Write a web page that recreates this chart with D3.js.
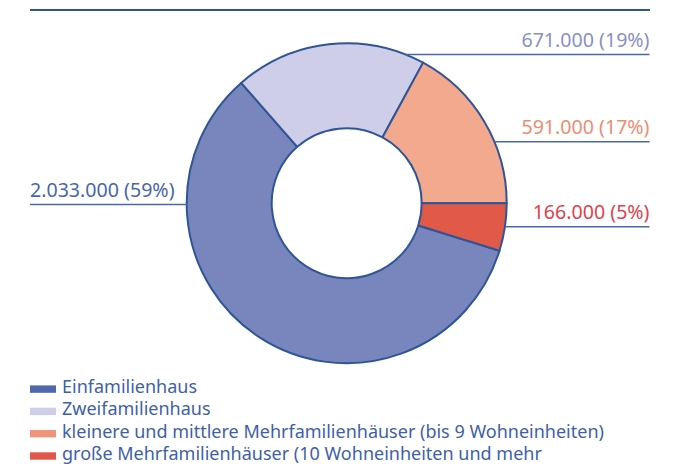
<!DOCTYPE html>
<html lang="de">
<head>
<meta charset="utf-8">
<title>Wohngebäude nach Gebäudetyp</title>
<script src="https://cdn.jsdelivr.net/npm/d3@7"></script>
<style>
  html, body { margin: 0; padding: 0; background: #ffffff; }
  svg { display: block; font-family: "Noto Sans", "Open Sans", sans-serif; }
</style>
</head>
<body>
<svg id="chart" width="690" height="469"></svg>
<script>
// Gebäudetypen und Anzahl der Wohngebäude
const categories = [
  "Einfamilienhaus",
  "Zweifamilienhaus",
  "kleinere und mittlere Mehrfamilienhäuser (bis 9 Wohneinheiten)",
  "große Mehrfamilienhäuser (10 Wohneinheiten und mehr"
];
const values = [2033000, 671000, 591000, 166000];

// Farben: Segmentfüllung, Legendenfeld, Beschriftung
const sliceColors  = ["#7886bd", "#cecee9", "#f2a98e", "#e05a47"];
const swatchColors = ["#5068ae", "#cecee9", "#ee9579", "#e0584a"];
const labelColors  = ["#4a66a8", "#8a90c6", "#ee8c72", "#e0424b"];

// Lage der Beschriftungslinien (Seite und Höhe der Linie)
const labelLayout = [
  { side: "left",  y: 204.5 },
  { side: "right", y: 54.5 },
  { side: "right", y: 141.8 },
  { side: "right", y: 226.8 }
];

const W = 690, H = 469;
const cx = 346.7, cy = 203.2, R = 160, r = 75;
const xLeft = 30, xRight = 649.5;
const strokeBlue = "#2f5597";

const svg = d3.select("#chart");

// Zahlenformat mit deutschem Tausendertrennzeichen
const de = d3.formatLocale({ decimal: ",", thousands: ".", grouping: [3], currency: ["", " €"] });
const fmt = de.format(",d");

const total = d3.sum(values);
const data = categories.map((c, i) => ({ name: c, value: values[i], i }));

// Obere Trennlinie
svg.append("line")
  .attr("x1", xLeft).attr("x2", xRight + 0.5)
  .attr("y1", 10).attr("y2", 10)
  .attr("stroke", strokeBlue).attr("stroke-width", 2.2);

// Der Ring beginnt bei 3 Uhr mit dem kleinsten Segment; Einfamilienhaus folgt danach
const start = Math.PI / 2 + 2 * Math.PI * values[3] / total;
const pie = d3.pie().sort(null).value(d => d.value)
  .startAngle(start).endAngle(start + 2 * Math.PI);
const arc = d3.arc().innerRadius(r).outerRadius(R);

const g = svg.append("g").attr("transform", `translate(${cx},${cy})`);
g.selectAll("path.slice")
  .data(pie(data))
  .join("path")
  .attr("class", "slice")
  .attr("d", arc)
  .attr("fill", d => sliceColors[d.data.i])
  .attr("stroke", strokeBlue)
  .attr("stroke-width", 2)
  .attr("stroke-linejoin", "round");

// Beschriftungen mit waagerechten Hinweislinien bis zum Ringrand
data.forEach((d, i) => {
  const L = labelLayout[i];
  const dy = L.y - cy;
  const edge = Math.sqrt(Math.max(0, R * R - dy * dy));
  const xEdge = L.side === "left" ? cx - edge : cx + edge;
  const xEnd = L.side === "left" ? xLeft : xRight;

  svg.append("line")
    .attr("x1", xEdge).attr("x2", xEnd)
    .attr("y1", L.y).attr("y2", L.y)
    .attr("stroke", "#4a69ad").attr("stroke-width", 1.5);

  const pct = Math.round(d.value / total * 100);
  svg.append("text")
    .attr("x", xEnd)
    .attr("y", L.y - 7.8)
    .attr("text-anchor", L.side === "left" ? "start" : "end")
    .attr("font-size", 19.6)
    .attr("fill", labelColors[i])
    .text(`${fmt(d.value)} (${pct}%)`);
});

// Legende
const legend = svg.append("g").attr("transform", "translate(30,393)");
const rowH = 22.3;
const rows = legend.selectAll("g.row")
  .data(data)
  .join("g")
  .attr("class", "row")
  .attr("transform", (d, i) => `translate(0,${i * rowH})`);
rows.append("rect")
  .attr("x", 0).attr("y", -7.6)
  .attr("width", 26).attr("height", 7.4)
  .attr("fill", d => swatchColors[d.i]);
rows.append("text")
  .attr("x", 32)
  .attr("y", 0)
  .attr("font-size", 18)
  .attr("fill", "#3f5fa8")
  .text(d => d.name);
</script>
</body>
</html>
